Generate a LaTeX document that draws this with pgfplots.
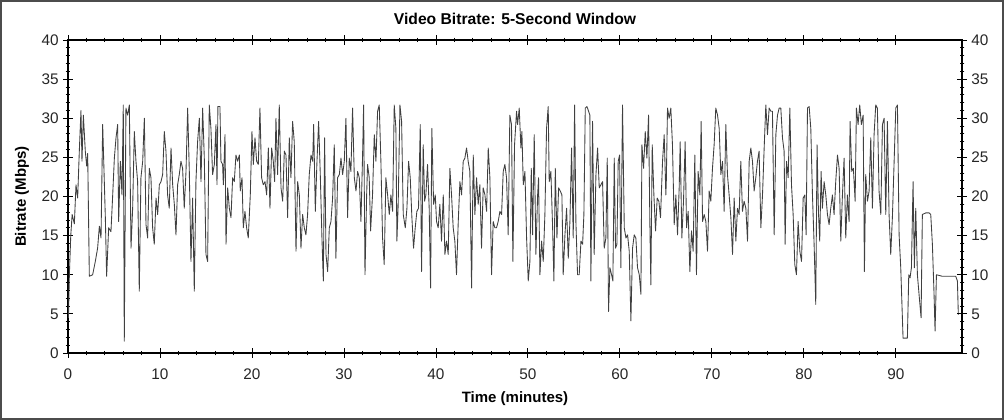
\documentclass[border=0pt]{standalone}
\usepackage{fontspec}
\setmainfont{Liberation Sans}
\usepackage{pgfplots}
\pgfplotsset{compat=1.18}
\begin{document}
\begin{tikzpicture}
\draw[black!70, line width=1.5pt, fill=white] (-50.25pt,-49.5pt) rectangle (701.25pt,264pt);
\pgfplotsset{
  myaxis/.style={
    at={(0,0)}, anchor=south west,
    scale only axis, width=670.5pt, height=234.75pt,
    xmin=0, xmax=97.2, ymin=0, ymax=40,
    xtick={0,10,...,90}, minor x tick num=4,
    ytick={0,5,...,40}, minor y tick num=4,
    tick align=center, major tick length=7pt, minor tick length=3.5pt,
    axis line style={black, line width=0.8pt},
    every tick/.style={black, line width=0.6pt},
    /pgf/number format/assume math mode=true,
    tick label style={font=\fontsize{11.5}{13}\selectfont, text=black!85},
  }
}
\begin{axis}[myaxis,
  yticklabel pos=left,
  xticklabel style={yshift=-4.5pt},
  title={\bfseries Video Bitrate: 5-Second Window},
  title style={at={(axis description cs:0.5,1.0415)}, anchor=center, font=\fontsize{11.75}{13}\selectfont},
  xlabel={\bfseries Time (minutes)},
  xlabel style={at={(axis description cs:0.5,-0.147)}, anchor=center, font=\fontsize{11.25}{13}\selectfont},
  ylabel={\bfseries Bitrate (Mbps)},
  ylabel style={at={(axis description cs:-0.0515,0.5)}, anchor=center, rotate=0, font=\fontsize{11.25}{13}\selectfont},
]
\addplot[black!75, line width=0.65pt, line join=round] coordinates {
(0.05,4.5)(0.15,10)(0.3,15)(0.45,17.7)(0.69,16.5)(0.87,21.5)(1.05,19.8)(1.23,25.8)(1.41,31)(1.52,24.5)(1.67,30.4)(1.88,25.8)(2.03,23.9)(2.14,25.5)(2.32,9.8)(2.68,10)(2.97,11.7)(3.22,13.4)(3.41,16.2)(3.59,14.7)(3.77,29.2)(4.06,17.3)(4.20,9.8)(4.42,16)(4.67,15.5)(4.86,20.2)(5.04,24.9)(5.22,27.5)(5.40,29.2)(5.51,16.8)(5.69,24.5)(5.87,20.2)(6.01,31.7)(6.12,1.5)(6.30,31.3)(6.49,30.4)(6.67,31.7)(6.85,13.4)(7.03,18.5)(7.21,28.3)(7.39,24.5)(7.57,21.9)(7.75,7.9)(7.93,22.4)(8.12,24.5)(8.30,30)(8.48,16.4)(8.66,14.7)(8.84,23.6)(9.02,22.4)(9.20,16)(9.38,13.9)(9.57,19.8)(9.75,17.7)(9.93,21.5)(10.11,21.9)(10.29,22.8)(10.47,28.3)(10.65,25.8)(10.83,20.2)(11.01,18.5)(11.20,26.2)(11.38,21.5)(11.56,19)(11.74,15.1)(11.92,21.5)(12.10,22.8)(12.28,24.5)(12.46,23.6)(12.64,18.5)(12.83,23.2)(13.01,31.3)(13.19,23.2)(13.37,11.7)(13.55,19.8)(13.73,7.9)(13.91,21.9)(14.09,27)(14.28,30)(14.46,21.9)(14.64,31.3)(14.82,24.9)(15.00,12.6)(15.18,11.7)(15.36,31.7)(15.54,28.7)(15.72,22.8)(15.91,24.1)(16.09,29.2)(16.2,21.5)(16.3,31.5)(16.52,31.5)(16.63,24.5)(16.81,24.1)(16.89,21.5)(17.07,27.9)(17.18,13.9)(17.36,21.1)(17.54,18.5)(17.72,17.3)(17.90,22.4)(18.08,21.9)(18.26,25.3)(18.45,24.5)(18.63,25.3)(18.73,20.7)(18.92,22.4)(19.06,16)(19.24,18.1)(19.42,16)(19.60,14.7)(19.82,20.2)(20.00,28.3)(20.15,24.1)(20.33,27.5)(20.51,24.5)(20.69,24.1)(20.87,31.3)(21.05,22.4)(21.23,21.5)(21.42,21.9)(21.60,20.2)(21.78,26.2)(21.96,18.5)(22.14,26.2)(22.32,24.5)(22.47,21.9)(22.61,30)(22.79,22.8)(22.97,31.7)(23.16,21.1)(23.34,19.4)(23.52,25.8)(23.70,25.3)(23.88,17.3)(24.06,27.5)(24.24,22.4)(24.42,29.6)(24.60,27)(24.79,13)(24.97,21.9)(25.15,20.2)(25.33,13.4)(25.51,17.7)(25.69,16)(25.87,15.1)(26.05,17.7)(26.23,22.8)(26.42,25.3)(26.60,24.5)(26.71,29.2)(26.89,18.1)(27.07,24.5)(27.25,29.6)(27.43,22.8)(27.61,14.7)(27.76,9.2)(27.90,27.5)(28.05,12.6)(28.23,10.4)(28.41,16)(28.59,16.8)(28.77,19.8)(28.95,26.6)(29.13,12.1)(29.31,22.4)(29.50,22.8)(29.68,24.9)(29.86,22.8)(30.04,24.5)(30.22,30)(30.40,17.3)(30.58,24.9)(30.76,23.2)(30.94,31.3)(31.13,22.4)(31.31,20.7)(31.49,23.2)(31.67,22.4)(31.85,16.8)(32.03,25.3)(32.14,31.7)(32.29,10)(32.47,20.2)
(32.57,24.1)(32.75,22.4)(32.90,15.6)(33.11,20.2)(33.30,27.9)(33.48,24.5)(33.66,30.9)(33.84,31.7)(34.02,24.5)(34.20,14.7)(34.38,11.3)(34.56,22.4)(34.75,20.2)(34.93,17.7)(35.11,20.2)(35.29,18.1)(35.47,31.7)(35.65,28.7)(35.76,14.3)(35.90,19)(36.09,31.7)(36.27,29.6)(36.45,17.7)(36.67,16)(36.85,18.5)(37.03,24.5)(37.21,22.4)(37.39,17.3)(37.57,13.4)(37.75,16)(37.93,18.1)(38.11,18.5)(38.30,29.2)(38.44,10.4)(38.62,26.6)(38.77,19.4)(38.91,20.2)(39.09,24.1)(39.27,18.5)(39.42,8.3)(39.56,28.7)(39.75,19)(39.93,20.2)(40.07,16.8)(40.25,16)(40.43,19)(40.61,14.3)(40.80,20.2)(40.98,12.6)(41.16,14.3)(41.34,12.6)(41.52,23.6)(41.70,20.2)(41.88,16)(42.06,14.3)(42.24,10)(42.43,16.8)(42.61,21.9)(42.79,20.2)(42.97,24.5)(43.15,24.9)(43.33,26.2)(43.51,24.5)(43.69,23.2)(43.88,8.3)(44.06,25.3)(44.24,17.7)(44.42,22.4)(44.60,19)(44.78,21.5)(44.96,13.4)(45.14,21.1)(45.33,20.2)(45.51,18.1)(45.69,26.2)(45.87,22.4)(46.05,10)(46.23,16.8)(46.41,16)(46.59,16)(46.77,16.8)(46.96,18.1)(47.14,17.7)(47.32,23.2)(47.50,24.1)(47.68,22.4)(47.86,15.1)(48.04,30.4)(48.22,29.2)(48.37,11.7)(48.55,26.6)(48.77,30.9)
(48.88,29.2)(49.06,31.3)(49.24,26.2)(49.35,28.3)(49.50,21.5)(49.68,23.2)(49.86,14.7)(50.04,9.2)(50.22,11.7)(50.37,23.6)(50.51,15.1)(50.69,27.9)(50.87,12.6)(51.06,20.2)(51.16,22.4)(51.31,10)(51.49,14.3)(51.67,11.7)(51.85,17.7)(52.03,28.7)(52.21,31.5)(52.32,21.9)(52.50,23.2)(52.69,16)(52.83,9.2)(52.98,23.6)(53.16,14.7)(53.34,21.1)(53.52,20.7)(53.70,20.2)(53.84,10)(54.03,15.1)(54.21,18.5)(54.39,12.1)(54.57,16.8)(54.75,26.2)(54.93,14.7)(55.08,31.7)(55.22,16.8)(55.40,10)(55.58,10)(55.77,14.3)(55.95,13.9)(56.09,17.7)(56.24,31.3)(56.42,31.5)(56.60,30.9)(56.74,30.4)(56.85,9.2)(57.03,29.6)(57.21,12.6)(57.40,22.8)(57.58,26.2)(57.76,21.1)(57.94,21.5)(58.12,21.9)(58.30,13.4)(58.48,14.7)(58.63,24.9)(58.77,5.3)(58.92,10.9)(59.10,10)(59.24,9.2)(59.39,24.9)(59.53,13.4)(59.68,13.9)(59.82,24.5)(59.97,25.3)(60.11,10.9)(60.29,31.7)(60.48,16)(60.66,14.7)(60.84,15.1)(61.02,13)(61.20,4.1)(61.38,13.4)(61.56,15.1)(61.74,14.7)(61.92,10.9)(62.11,10)(62.29,7.5)(62.40,26.6)(62.58,23.6)(62.76,28.3)(62.94,24.9)(63.12,30.4)(63.27,16)(63.37,8.7)(63.52,26.6)(63.70,20.2)(63.88,15.6)(64.06,19.8)(64.24,19.4)(64.42,17.3)(64.64,24.5)(64.82,27.9)(65.00,20.2)
(65.05,21.9)(65.18,31.3)(65.36,30)(65.54,31.3)(65.72,26.6)(65.91,16.4)(66.09,20.2)(66.27,15.1)(66.45,21.1)(66.56,27)(66.74,14.7)(66.92,19.4)(67.10,27)(67.25,16)(67.43,18.1)(67.61,10.4)(67.79,15.6)(67.97,13)(68.15,25.3)(68.33,10)(68.51,23.2)(68.70,20.2)(68.84,29.6)(68.99,16.8)(69.17,17.7)(69.35,16.8)(69.53,13)(69.71,20.7)(69.89,19.4)(70.07,23.6)(70.25,26.6)(70.43,31.3)(70.62,30.4)(70.80,28.7)(70.98,22.8)(71.16,24.5)(71.34,18.1)(71.52,29.2)(71.70,22.8)(71.88,20.2)(72.07,17.3)(72.25,12.6)(72.43,19.8)(72.61,14.3)(72.79,18.5)(72.97,17.7)(73.15,24.5)(73.33,18.1)(73.51,19.4)(73.70,18.5)(73.88,14.3)(74.06,24.5)(74.24,26.2)(74.42,24.5)(74.60,20.7)(74.78,22.4)(74.96,24.5)(75.14,25.8)(75.33,16)(75.51,20.2)(75.69,26.2)(75.87,31.7)(76.05,27.9)(76.23,31.3)(76.41,30.9)(76.59,30.9)(76.78,15.1)(76.96,27.9)(77.14,30.4)(77.32,31.3)(77.50,31.3)(77.68,27.5)(77.86,25.8)(77.97,13.9)(78.12,24.5)(78.30,22.4)(78.48,31.3)(78.66,21.5)(78.84,17.7)(79.02,11.3)(79.20,10)(79.38,16.8)(79.57,13)(79.75,11.7)(79.93,19.8)(80.11,20.2)(80.25,15.1)(80.40,31.3)(80.58,31.5)(80.76,28.7)(80.94,20.2)(81.12,13.9)(81.30,6.2)
(81.44,26.6)(81.59,18.1)(81.73,14.3)(81.88,23.2)(82.02,18.5)(82.21,21.9)(82.39,20.2)(82.57,17.7)(82.75,16.4)(82.93,18.5)(83.11,20.2)(83.29,17.7)(83.47,21.9)(83.66,25.3)(83.84,23.6)(84.02,14.3)(84.20,20.2)(84.38,24.9)(84.56,14.7)(84.74,20.2)(84.92,16.8)(85.03,29.6)(85.21,23.2)(85.39,23.6)(85.58,19.4)(85.72,31.3)(85.90,29.2)(86.08,31.7)(86.26,29.2)(86.45,30.4)(86.59,10.4)(86.73,22.8)(86.92,19.4)(87.10,20.7)(87.28,27.5)(87.46,18.5)(87.64,27.9)(87.82,31.7)(88.00,31.3)(88.18,20.7)(88.37,17.7)(88.55,29.2)(88.73,30)(88.91,17.7)(89.09,29.6)(89.27,17.7)(89.45,12.6)(89.63,17.3)(89.81,24.1)(90.00,31.3)(90.18,31.7)(90.36,15.1)(90.54,10.9)(90.79,1.9)(91.08,1.9)(91.26,1.9)(91.41,10)(91.55,9.6)(91.70,10.9)(91.88,21.9)(92.02,10.9)(92.17,18.5)(92.35,10)(92.53,7.5)(92.75,4.5)(92.89,17.7)(93.26,17.9)(93.62,17.9)(93.80,17.7)(93.98,13.9)(94.16,7.5)(94.27,2.8)(94.42,10)(95.07,9.8)(95.80,9.8)(96.52,9.8)(96.70,9.2)(96.80,4.9)
};
\end{axis}
\begin{axis}[myaxis,
  hide x axis, axis y line*=right, yticklabel pos=right,
]
\end{axis}
\end{tikzpicture}
\end{document}
